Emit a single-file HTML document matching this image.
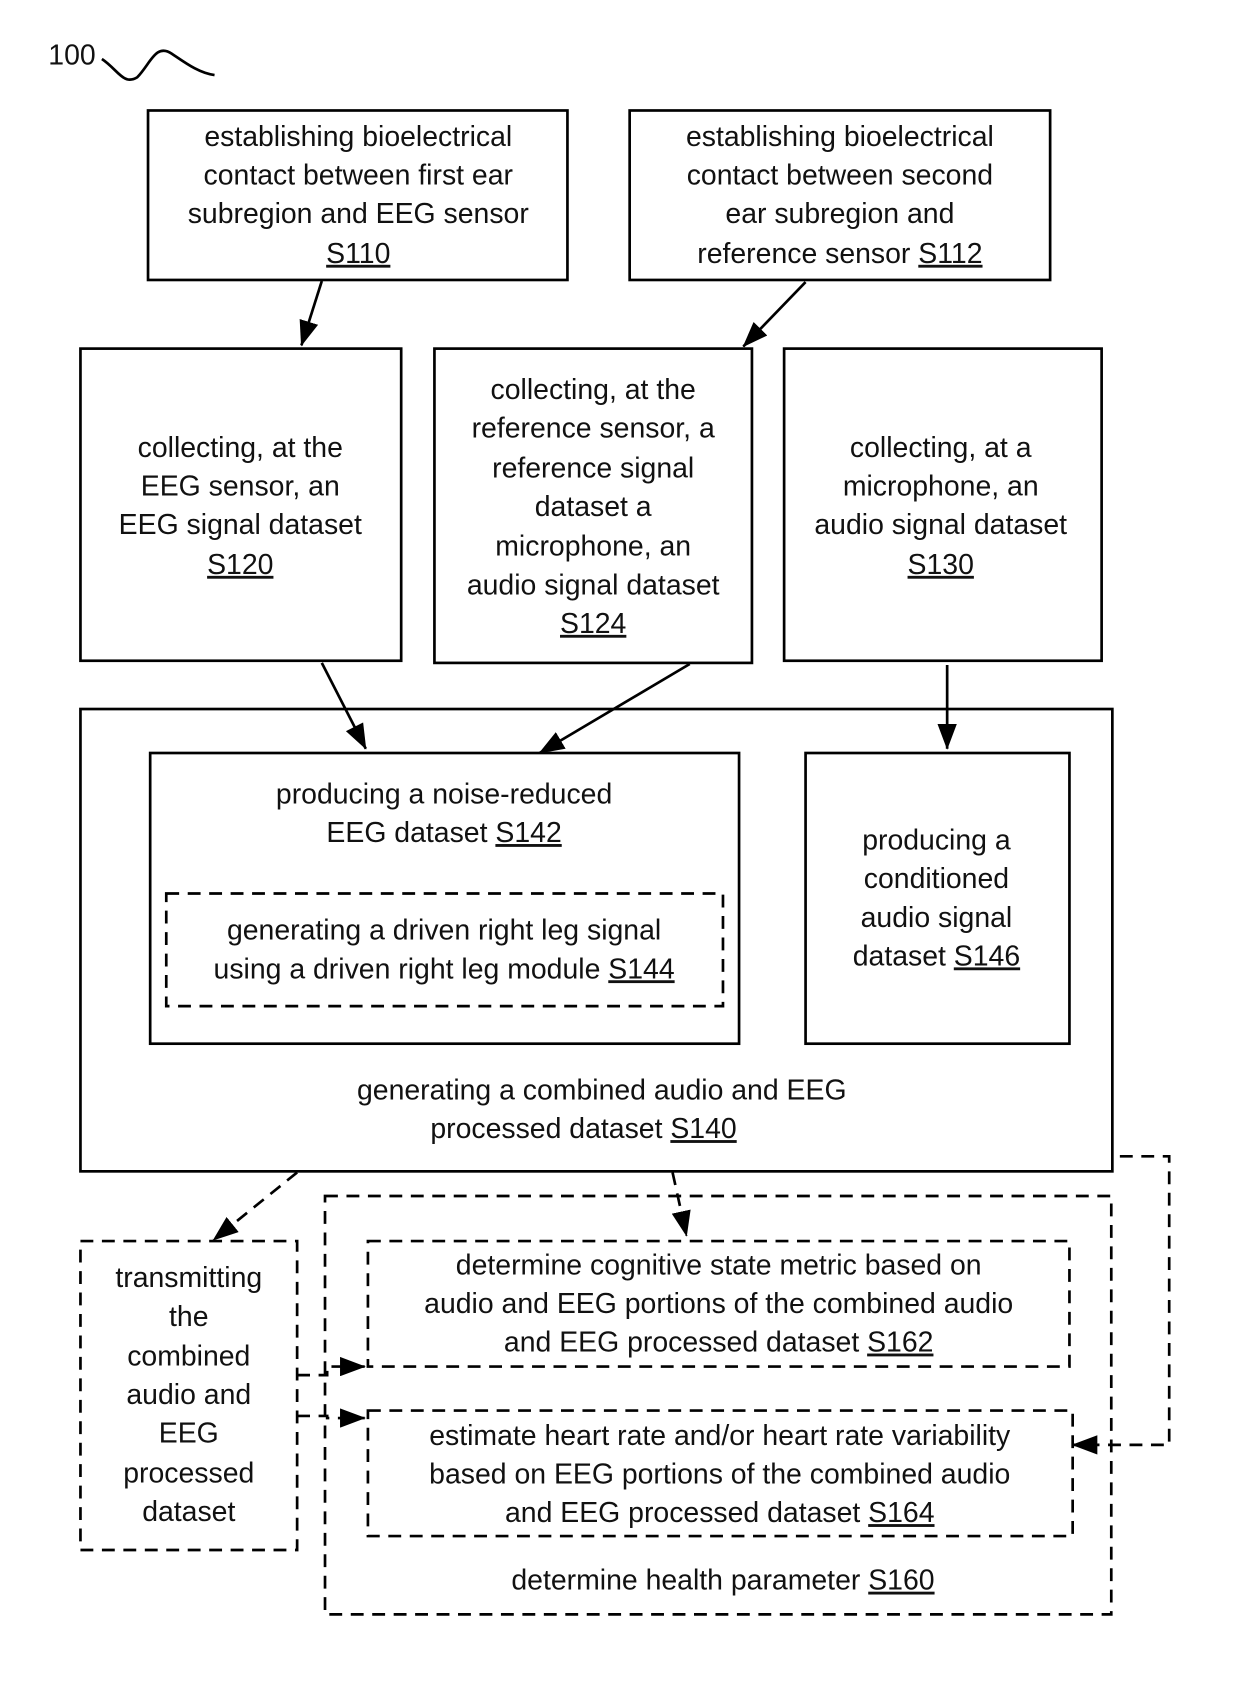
<!DOCTYPE html>
<html><head><meta charset="utf-8"><style>
html,body{margin:0;padding:0;background:#fff}
svg{display:block}
text{font-family:"Liberation Sans",sans-serif;font-size:26.5px;fill:#111;text-anchor:middle}
.u{text-decoration:underline}
</style></head><body>
<svg width="1240" height="1683" viewBox="0 0 1156 1569" xmlns="http://www.w3.org/2000/svg">
<defs>
<marker id="a" markerWidth="10" markerHeight="10" refX="9" refY="5" orient="auto" markerUnits="userSpaceOnUse" viewBox="0 0 10 10"><path d="M0,0 L10,5 L0,10 z" fill="#000"/></marker>
<marker id="b" markerWidth="24" markerHeight="18" refX="23" refY="9" orient="auto" markerUnits="userSpaceOnUse" viewBox="0 0 24 18"><path d="M0,0 L24,9 L0,18 z" fill="#000"/></marker>
</defs>
<g fill="none" stroke="#000" stroke-width="2.5">
<rect x="138" y="103" width="391" height="158"/>
<rect x="587" y="103" width="392" height="158"/>
<rect x="75" y="325" width="299" height="291"/>
<rect x="405" y="325" width="296" height="293"/>
<rect x="731" y="325" width="296" height="291"/>
<rect x="75" y="661" width="962" height="431"/>
<rect x="140" y="702" width="549" height="271"/>
<rect x="751" y="702" width="246" height="271"/>
</g>
<g fill="none" stroke="#000" stroke-width="2.5" stroke-dasharray="12,8">
<rect x="155" y="833" width="519" height="105"/>
<rect x="75" y="1157" width="202" height="288"/>
<rect x="303" y="1115" width="733" height="390"/>
<rect x="343" y="1157" width="654" height="117"/>
<rect x="343" y="1315" width="657" height="117"/>
</g>
<g stroke="#000" stroke-width="2.5" fill="none">
<line x1="300" y1="262" x2="281" y2="322" marker-end="url(#b)"/>
<line x1="751" y1="263" x2="693" y2="323" marker-end="url(#b)"/>
<line x1="300" y1="618" x2="341" y2="698" marker-end="url(#b)"/>
<line x1="643" y1="619" x2="503" y2="702" marker-end="url(#b)"/>
<line x1="883" y1="620" x2="883" y2="698" marker-end="url(#b)"/>
</g>
<g stroke="#000" stroke-width="2.5" fill="none" stroke-dasharray="12,8">
<line x1="277" y1="1093" x2="199" y2="1156" marker-end="url(#b)"/>
<line x1="627" y1="1093" x2="640" y2="1152" marker-end="url(#b)"/>
<polyline points="1044,1078 1090,1078 1090,1347 1000,1347" marker-end="url(#b)"/>
<polyline points="277,1282 305,1282 305,1274 340,1274" marker-end="url(#b)"/>
<polyline points="277,1320 305,1320 305,1322 340,1322" marker-end="url(#b)"/>
</g>
<text x="45" y="60" style="text-anchor:start">100</text>
<path d="M95,55 C110,65 115,80 128,72 C140,60 145,40 160,50 C172,58 185,68 200,70" fill="none" stroke="#000" stroke-width="2.5"/>
<text x="334" y="136">establishing bioelectrical</text>
<text x="334" y="172">contact between first ear</text>
<text x="334" y="208">subregion and EEG sensor</text>
<text x="334" y="245" class="u">S110</text>
<text x="783" y="136">establishing bioelectrical</text>
<text x="783" y="172">contact between second</text>
<text x="783" y="208">ear subregion and</text>
<text x="783" y="245">reference sensor <tspan class="u">S112</tspan></text>
<text x="224" y="426">collecting, at the</text>
<text x="224" y="462">EEG sensor, an</text>
<text x="224" y="498">EEG signal dataset</text>
<text x="224" y="535" class="u">S120</text>
<text x="553" y="372">collecting, at the</text>
<text x="553" y="408">reference sensor, a</text>
<text x="553" y="445">reference signal</text>
<text x="553" y="481">dataset  a</text>
<text x="553" y="518">microphone, an</text>
<text x="553" y="554">audio signal dataset</text>
<text x="553" y="590" class="u">S124</text>
<text x="877" y="426">collecting, at a</text>
<text x="877" y="462">microphone, an</text>
<text x="877" y="498">audio signal dataset</text>
<text x="877" y="535" class="u">S130</text>
<text x="414" y="749">producing a noise-reduced</text>
<text x="414" y="785">EEG dataset <tspan class="u">S142</tspan></text>
<text x="414" y="876">generating a driven right leg signal</text>
<text x="414" y="912">using a driven right leg module <tspan class="u">S144</tspan></text>
<text x="873" y="792">producing a</text>
<text x="873" y="828">conditioned</text>
<text x="873" y="864">audio signal</text>
<text x="873" y="900">dataset <tspan class="u">S146</tspan></text>
<text x="561" y="1025">generating a combined audio and EEG</text>
<text x="544" y="1061">processed dataset <tspan class="u">S140</tspan></text>
<text x="176" y="1200">transmitting</text>
<text x="176" y="1236">the</text>
<text x="176" y="1273">combined</text>
<text x="176" y="1309">audio and</text>
<text x="176" y="1345">EEG</text>
<text x="176" y="1382">processed</text>
<text x="176" y="1418">dataset</text>
<text x="670" y="1188">determine cognitive state metric based on</text>
<text x="670" y="1224">audio and EEG portions of the combined audio</text>
<text x="670" y="1260">and EEG processed dataset <tspan class="u">S162</tspan></text>
<text x="671" y="1347">estimate heart rate and/or heart rate variability</text>
<text x="671" y="1383">based on EEG portions of the combined audio</text>
<text x="671" y="1419">and EEG processed dataset <tspan class="u">S164</tspan></text>
<text x="674" y="1482">determine health parameter <tspan class="u">S160</tspan></text>
</svg>
</body></html>
